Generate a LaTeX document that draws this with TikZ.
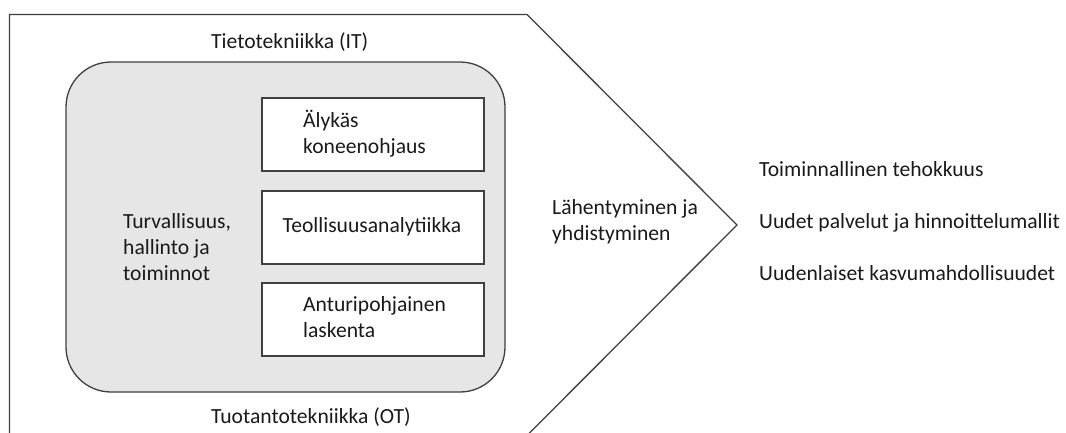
\documentclass[tikz,border=0pt]{standalone}
\usepackage{fontspec}
\setmainfont{Carlito}
\definecolor{edge}{HTML}{404040}
\definecolor{panelgray}{HTML}{E7E6E6}
\definecolor{ink}{HTML}{1A1A1A}
\begin{document}
\begin{tikzpicture}[x=1pt,y=-1pt,
  every node/.style={text=ink, font=\fontsize{21.6}{26}\selectfont, inner sep=0pt},
  outline/.style={draw=edge, line width=1.3pt, line join=miter},
  panel/.style={draw=edge, fill=panelgray, line width=1.3pt, rounded corners=45pt},
  itembox/.style={draw=edge, fill=white, line width=1.5pt, minimum width=222pt, minimum height=73pt, anchor=north west},
  % multi-line labels are placed by the baseline of their last line
  lbl/.style={align=left, anchor=base west}
]
\useasboundingbox (0,0) rectangle (1066,432);
\fill[white] (0,0) rectangle (1066,432);

% arrow-shaped outer frame (its bottom runs below the page)
\begin{scope}
  \clip (0,0) rectangle (1066,432);
  \coordinate (tl) at (9.5,14.5);
  \coordinate (tr) at (527,14.5);
  \coordinate (tip) at (737,225);
  \coordinate (br) at (527,435.5);
  \coordinate (bl) at (9.5,435.5);
  \draw[outline] (tl) -- (tr) -- (tip) -- (br) -- (bl) -- cycle;
\end{scope}

% grey panel
\draw[panel] (66,62) rectangle (505,392);

% three boxes
\node[itembox] (b1) at (261,97) {};
\node[itembox] (b2) at (261,190) {};
\node[itembox] (b3) at (261,282) {};

% labels
\node[lbl] (it) at (211,48) {Tietotekniikka (IT)};
\node[lbl] (ot) at (211,423) {Tuotantotekniikka (OT)};
\node[lbl] (sec) at (123,280) {Turvallisuus,\\hallinto ja\\toiminnot};
\node[lbl] (t1) at (303,153) {Älykäs\\koneenohjaus};
\node[anchor=base] (t2) at (372,232) {Teollisuusanalytiikka};
\node[lbl] (t3) at (303,337) {Anturipohjainen\\laskenta};
\node[lbl] (conv) at (552,240) {Lähentyminen ja\\yhdistyminen};
\node[lbl] (r1) at (759,176) {Toiminnallinen tehokkuus};
\node[lbl] (r2) at (759,228) {Uudet palvelut ja hinnoittelumallit};
\node[lbl] (r3) at (759,280) {Uudenlaiset kasvumahdollisuudet};
\end{tikzpicture}
\end{document}
